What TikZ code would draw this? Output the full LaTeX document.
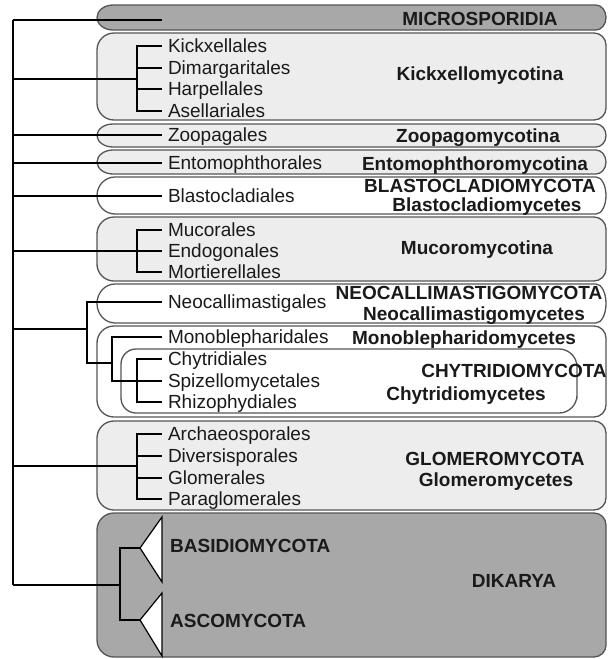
\documentclass[tikz,border=0pt]{standalone}
\usepackage{fontspec}
\setmainfont{Liberation Sans}
\definecolor{boxline}{HTML}{555555}
\definecolor{darkfill}{HTML}{A8A8A8}
\definecolor{lightfill}{HTML}{EDEDED}
\definecolor{txt}{HTML}{1A1A1A}
\begin{document}
\begin{tikzpicture}[x=1pt,y=-1pt,
  order/.style={anchor=west, inner sep=0pt, outer xsep=6pt, text height=12pt, text depth=0pt, font=\fontsize{19}{21}\selectfont, text=txt},
  taxon/.style={anchor=base, inner sep=0pt, font=\bfseries\fontsize{19}{21}\selectfont, text=txt},
  tree/.style={line width=1.5pt, draw=black},
  clade/.style={draw=boxline, line width=1.3pt},
]
\useasboundingbox (0,0) rectangle (609,659);
% ---- boxes ----
% capsule-like boxes
\path[clade, fill=darkfill] (113,5) -- (596,5) arc[start angle=90, end angle=-90, x radius=10pt, y radius=12.5pt]
  -- (113,30) arc[start angle=270, end angle=90, x radius=16pt, y radius=12.5pt] -- cycle;
\path[clade, fill=lightfill] (113,124) -- (596,124) arc[start angle=90, end angle=-90, x radius=10pt, y radius=11.5pt]
  -- (113,147) arc[start angle=270, end angle=90, x radius=16pt, y radius=11.5pt] -- cycle;
\path[clade, fill=lightfill] (113,150) -- (596,150) arc[start angle=90, end angle=-90, x radius=10pt, y radius=12pt]
  -- (113,174) arc[start angle=270, end angle=90, x radius=16pt, y radius=12pt] -- cycle;
\path[clade, fill=white] (115,177) -- (596,177) arc[start angle=90, end angle=-90, x radius=10pt, y radius=18.5pt]
  -- (115,214) arc[start angle=270, end angle=90, x radius=18pt, y radius=18.5pt] -- cycle;
\path[clade, fill=white] (115,284) -- (596,284) arc[start angle=90, end angle=-90, x radius=10pt, y radius=19.5pt]
  -- (115,323) arc[start angle=270, end angle=90, x radius=18pt, y radius=19.5pt] -- cycle;
% large boxes
\path[clade, fill=lightfill] [rounded corners=17pt] (97,76) |- (350,33) [rounded corners=12pt] -| (606,76) |- (350,120) [rounded corners=17pt] -| (97,76) -- cycle;
\path[clade, fill=lightfill] [rounded corners=17pt] (97,249) |- (350,217) [rounded corners=12pt] -| (606,249) |- (350,281) [rounded corners=17pt] -| (97,249) -- cycle;
\path[clade, fill=white] [rounded corners=17pt] (97,371) |- (350,326) [rounded corners=12pt] -| (606,371) |- (350,417) [rounded corners=17pt] -| (97,371) -- cycle;
\path[clade, fill=white] [rounded corners=15pt] (121,381) |- (350,349) [rounded corners=18pt] -| (577,381) |- (350,413) [rounded corners=15pt] -| (121,381) -- cycle;
\path[clade, fill=lightfill] [rounded corners=17pt] (97,465) |- (350,421) [rounded corners=12pt] -| (606,465) |- (350,510) [rounded corners=17pt] -| (97,465) -- cycle;
\path[clade, fill=darkfill] [rounded corners=17pt] (97,585) |- (350,513) [rounded corners=12pt] -| (606,585) |- (350,657) [rounded corners=17pt] -| (97,585) -- cycle;
% ---- order labels ----
\node[order] (kx1) at (162,46) {Kickxellales};
\node[order] (kx2) at (162,68) {Dimargaritales};
\node[order] (kx3) at (162,89) {Harpellales};
\node[order] (kx4) at (162,111) {Asellariales};
\node[order] (zoo) at (162,135) {Zoopagales};
\node[order] (ent) at (162,163) {Entomophthorales};
\node[order] (bla) at (162,196) {Blastocladiales};
\node[order] (mu1) at (162,230) {Mucorales};
\node[order] (mu2) at (162,251) {Endogonales};
\node[order] (mu3) at (162,272) {Mortierellales};
\node[order] (neo) at (162,302) {Neocallimastigales};
\node[order] (mon) at (162,337) {Monoblepharidales};
\node[order] (ch1) at (162,359) {Chytridiales};
\node[order] (ch2) at (162,381) {Spizellomycetales};
\node[order] (ch3) at (162,402) {Rhizophydiales};
\node[order] (gl1) at (162,434) {Archaeosporales};
\node[order] (gl2) at (162,456) {Diversisporales};
\node[order] (gl3) at (162,478) {Glomerales};
\node[order] (gl4) at (162,499) {Paraglomerales};
% ---- taxon labels ----
\node[taxon] (tmic) at (480,25) {MICROSPORIDIA};
\node[taxon] (tkic) at (480,80) {Kickxellomycotina};
\node[taxon] (tzoo) at (478,142) {Zoopagomycotina};
\node[taxon] (tent) at (475,170) {Entomophthoromycotina};
\node[taxon] (tbla) at (480,192) {BLASTOCLADIOMYCOTA};
\node[taxon] (tblc) at (487,211) {Blastocladiomycetes};
\node[taxon] (tmuc) at (477,254) {Mucoromycotina};
\node[taxon] (tneo) at (469,299) {NEOCALLIMASTIGOMYCOTA};
\node[taxon] (tnec) at (474,320) {Neocallimastigomycetes};
\node[taxon] (tmon) at (464,344) {Monoblepharidomycetes};
\node[taxon] (tchy) at (514,377) {CHYTRIDIOMYCOTA};
\node[taxon] (tchc) at (466,400) {Chytridiomycetes};
\node[taxon] (tglo) at (495,465) {GLOMEROMYCOTA};
\node[taxon] (tglc) at (496,486) {Glomeromycetes};
\node[taxon] (tdik) at (514,587) {DIKARYA};
\node[taxon, anchor=base west] (tbas) at (170,552) {BASIDIOMYCOTA};
\node[taxon, anchor=base west] (tasc) at (170,627) {ASCOMYCOTA};
% ---- tree ----
\coordinate (rtop) at (13,20);
\coordinate (rbot) at (13,585);
\coordinate (micend) at (162,20);
\coordinate (kx) at (137,79);
\coordinate (mu) at (137,251);
\coordinate (nA) at (87,329);
\coordinate (nB) at (112,363);
\coordinate (nC) at (137,381);
\coordinate (gl) at (137,466);
\coordinate (dk) at (120,585);
\coordinate (basA) at (140,548);
\coordinate (ascA) at (140,620);
\draw[tree] (rtop) -- (rbot);
\draw[tree] (rtop) -- (micend);
% Kickxellomycotina
\draw[tree] (kx -| rtop) -- (kx);
\draw[tree] (kx1.west) -| (kx4.west -| kx) -- (kx4.west);
\draw[tree] (kx2.west) -- (kx2.west -| kx);
\draw[tree] (kx3.west) -- (kx3.west -| kx);
% single orders
\draw[tree] (zoo.west -| rtop) -- (zoo.west);
\draw[tree] (ent.west -| rtop) -- (ent.west);
\draw[tree] (bla.west -| rtop) -- (bla.west);
% Mucoromycotina
\draw[tree] (mu -| rtop) -- (mu2.west);
\draw[tree] (mu1.west) -| (mu3.west -| mu) -- (mu3.west);
% Neocallimastigo + Chytridio
\draw[tree] (nA -| rtop) -- (nA);
\draw[tree] (neo.west) -| (nB -| nA) -- (nB);
\draw[tree] (mon.west) -| (nC -| nB) -- (nC);
\draw[tree] (ch1.west) -| (ch3.west -| nC) -- (ch3.west);
\draw[tree] (nC) -- (ch2.west);
% Glomeromycota
\draw[tree] (gl -| rtop) -- (gl);
\draw[tree] (gl1.west) -| (gl4.west -| gl) -- (gl4.west);
\draw[tree] (gl2.west) -- (gl2.west -| gl);
\draw[tree] (gl3.west) -- (gl3.west -| gl);
% Dikarya
\draw[tree] (rbot) -- (dk);
\draw[tree] (basA) -| (dk) |- (ascA);
\draw[line width=1.2pt, fill=white] (basA) -- (162,517) -- (162,582) -- cycle;
\draw[line width=1.2pt, fill=white] (ascA) -- (162,593) -- (162,656) -- cycle;
\end{tikzpicture}
\end{document}
